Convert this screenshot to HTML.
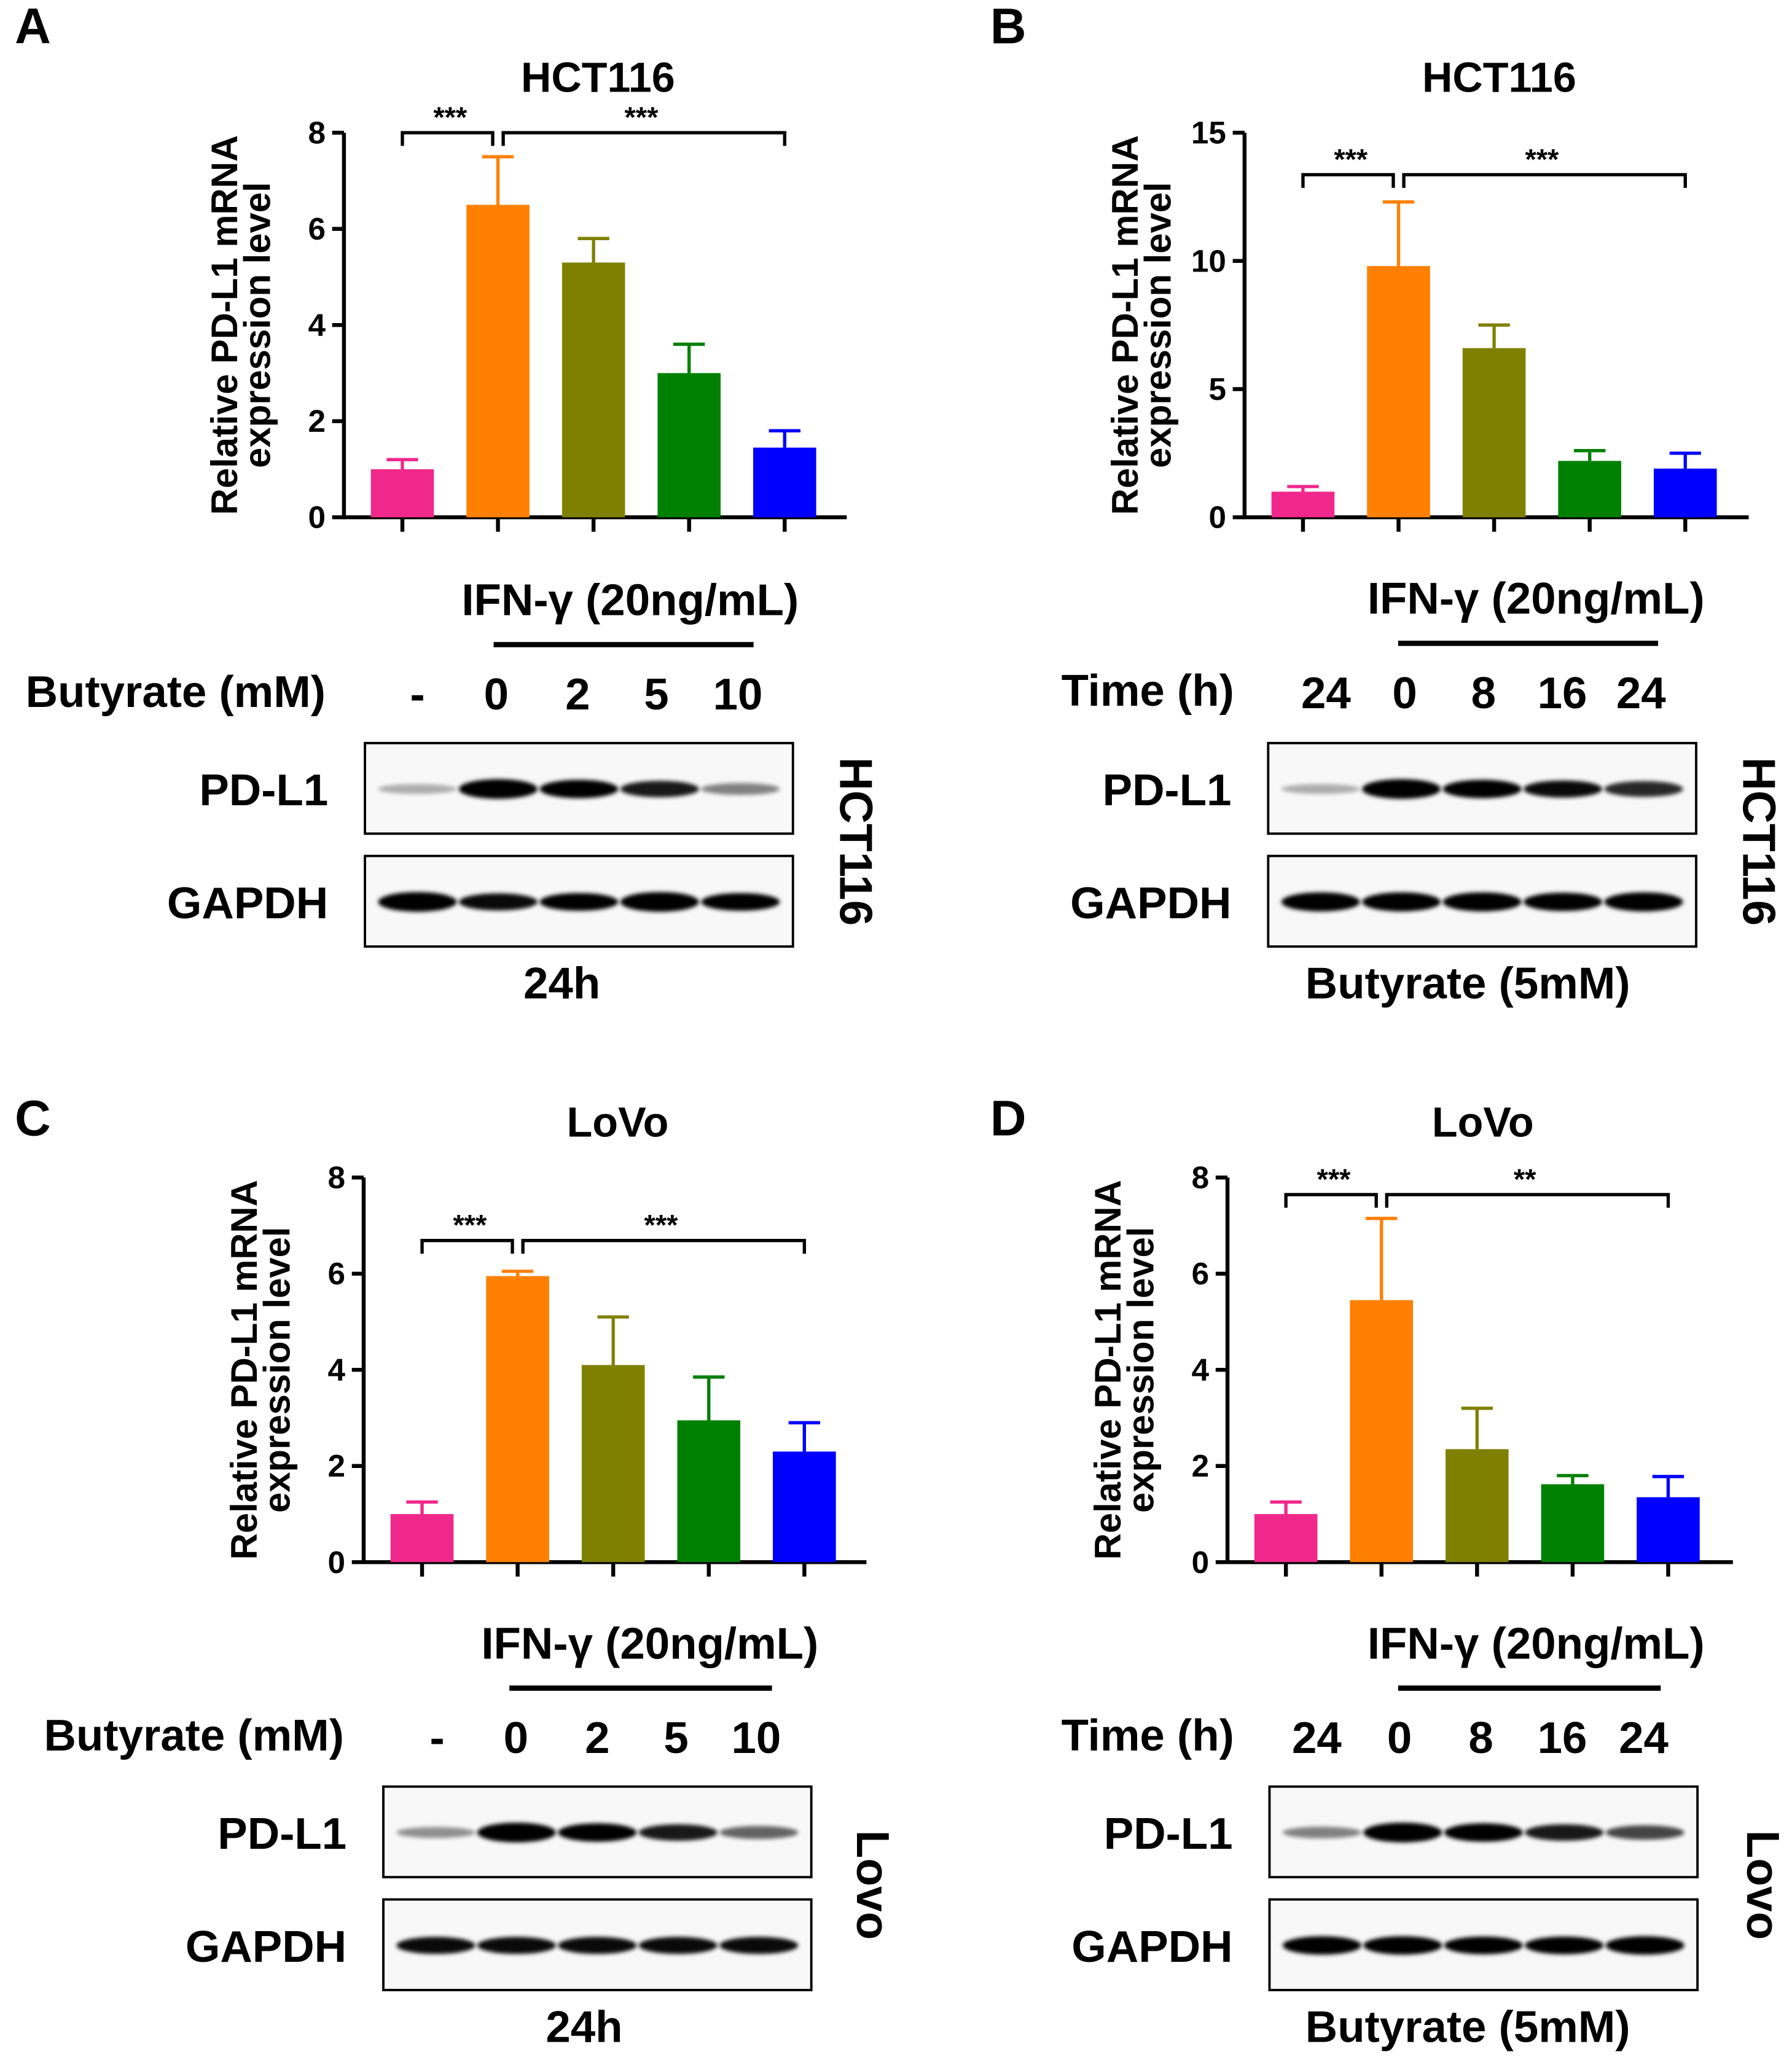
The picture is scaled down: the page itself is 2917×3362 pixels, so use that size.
<!DOCTYPE html>
<html><head><meta charset="utf-8">
<style>
html,body{margin:0;padding:0;background:#fff}
svg{display:block}
text{font-family:"Liberation Sans",Arial,sans-serif;font-weight:bold;fill:#000}
</style></head>
<body>
<svg id="fig" width="2917" height="3362" viewBox="0 0 1365 1573" xmlns="http://www.w3.org/2000/svg">
<defs><filter id="blur" x="-20%" y="-50%" width="140%" height="200%"><feGaussianBlur stdDeviation="1.6"/></filter></defs>
</svg>
<script>
const NS="http://www.w3.org/2000/svg";
const svg=document.getElementById('fig');
const colors=["#f0288c","#ff8000","#808000","#008000","#0000ff"];
// Chart data
const valuesA=[1.0,6.5,5.3,3.0,1.45];
const errA=[1.2,7.5,5.8,3.6,1.8];
const valuesB=[1.0,9.8,6.6,2.2,1.9];
const errB=[1.2,12.3,7.5,2.6,2.5];
const valuesC=[1.0,5.95,4.1,2.95,2.3];
const errC=[1.25,6.05,5.1,3.85,2.9];
const valuesD=[1.0,5.45,2.35,1.62,1.35];
const errD=[1.25,7.15,3.2,1.8,1.78];
const ticks8=[0,2,4,6,8];
const ticks15=[0,5,10,15];
const starsA=["***","***"],starsB=["***","***"],starsC=["***","***"],starsD=["***","**"];
const bandsA_pd=[0.25,1,0.9,0.75,0.4], bandsA_g=[1,0.8,0.85,1,0.85];
const bandsB_pd=[0.25,1,0.9,0.8,0.7], bandsB_g=[0.95,0.95,0.95,0.9,0.95];
const bandsC_pd=[0.35,1,0.9,0.75,0.5], bandsC_g=[0.8,0.8,0.8,0.8,0.8];
const bandsD_pd=[0.4,1,0.9,0.75,0.6], bandsD_g=[0.9,0.9,0.85,0.85,0.9];

function el(tag,attrs,parent){const e=document.createElementNS(NS,tag);for(const k in attrs)e.setAttribute(k,attrs[k]);(parent||svg).appendChild(e);return e;}
function txt(x,y,s,size,anchor,parent,rot){const t=el('text',{x:x,y:y,'font-size':size,'text-anchor':anchor||'middle','dominant-baseline':'central'},parent);if(rot)t.setAttribute('transform',`rotate(${rot} ${x} ${y})`);t.textContent=s;return t;}

function chart(o){
  const g=el('g',{});
  
  
  const y=v=>o.y0-(v/o.ymax)*(o.y0-o.ytop);
  const n=o.vals.length;
  const xc=i=>o.xa+44.5+72.8*i;
  el('line',{x1:o.xa,y1:o.ytop,x2:o.xa,y2:o.y0+1.5,stroke:'#000','stroke-width':3},g);
  el('line',{x1:o.xa-1.5,y1:o.y0,x2:o.x1,y2:o.y0,stroke:'#000','stroke-width':3},g);
  o.ticks.forEach(t=>{
    el('line',{x1:o.xa-9,y1:y(t),x2:o.xa,y2:y(t),stroke:'#000','stroke-width':3},g);
    const l=txt(o.xa-14,y(t),String(t),24,'end',g);
    
    
  });
  for(let i=0;i<n;i++){
    el('line',{x1:xc(i),y1:o.y0,x2:xc(i),y2:o.y0+11,stroke:'#000','stroke-width':3},g);
    const b=el('rect',{x:xc(i)-24,y:y(o.vals[i]),width:48,height:o.y0-y(o.vals[i]),fill:colors[i]},g);
    
    
    const ey=y(o.errs[i]);
    el('line',{x1:xc(i),y1:ey,x2:xc(i),y2:y(o.vals[i]),stroke:colors[i],'stroke-width':2.5},g);
    el('line',{x1:xc(i)-12,y1:ey,x2:xc(i)+12,y2:ey,stroke:colors[i],'stroke-width':2.5},g);
  }
  const by=o.by;
  el('path',{d:`M${xc(0)} ${by+10}V${by}H${xc(1)-4}V${by+10}`,fill:'none',stroke:'#000','stroke-width':2.5},g);
  el('path',{d:`M${xc(1)+4} ${by+10}V${by}H${xc(4)}V${by+10}`,fill:'none',stroke:'#000','stroke-width':2.5},g);
  txt((xc(0)+xc(1))/2,by-12,o.stars[0],22,'middle',g);
  txt((xc(1)+xc(4))/2,by-12,o.stars[1],22,'middle',g);
  const ttl=txt((o.xa+o.x1)/2+2,o.ytop-42,o.title,32,'middle',g);
  
  
  const ym=(o.y0+o.ytop)/2;
  const a1=txt(o.xa-91,ym,'Relative PD-L1 mRNA',28,'middle',g,-90);
  
  
  txt(o.xa-66,ym,'expression level',28,'middle',g,-90);
}
chart({name:'a',xa:262,x1:645,y0:394,ytop:101,ymax:8,ticks:ticks8,vals:valuesA,errs:errA,by:101,stars:starsA,title:'HCT116'});
chart({name:'b',xa:948,x1:1332,y0:394,ytop:101,ymax:15,ticks:ticks15,vals:valuesB,errs:errB,by:133,stars:starsB,title:'HCT116'});
chart({name:'c',xa:277,x1:660,y0:1190,ytop:897,ymax:8,ticks:ticks8,vals:valuesC,errs:errC,by:945,stars:starsC,title:'LoVo'});
chart({name:'d',xa:935,x1:1320,y0:1190,ytop:897,ymax:8,ticks:ticks8,vals:valuesD,errs:errD,by:910,stars:starsD,title:'LoVo'});

function blot(o){
  const g=el('g',{});
  
  
  [[o.y1,o.pd,'PD-L1'],[o.y2,o.gp,'GAPDH']].forEach(([yy,bands,lab])=>{
    el('rect',{x:o.x,y:yy,width:326,height:69,fill:'#f8f8f8',stroke:'#000','stroke-width':1.8},g);
    for(let i=0;i<5;i++){
      const cx=o.x+40+i*61.5, a=bands[i];
      el('ellipse',{cx:cx,cy:yy+35,rx:30,ry:2.5+a*5,fill:'#000',opacity:Math.min(1,a*1.2),filter:'url(#blur)'},g);
    }
    const l=txt(o.x-28,yy+36,lab,34,'end',g);
    
    
  });
  txt(o.ifx,o.ify,'IFN-γ (20ng/mL)',34,'middle',g);
  el('line',{x1:o.lx1,y1:o.ify+34,x2:o.lx2,y2:o.ify+34,stroke:'#000','stroke-width':4},g);
  txt(o.rowx,o.ify+70,o.rowLabel,34,'end',g);
  o.lanes.forEach((s,i)=>txt(o.lanex[i],o.ify+72,s,34,'middle',g));
  txt(o.botx,o.y2+97,o.bottom,34,'middle',g);
  txt(o.sidex,o.y1+75,o.side,35,'middle',g,90);
}
blot({name:'a',x:278,y1:566,y2:652,pd:bandsA_pd,gp:bandsA_g,ifx:480,ify:457,lx1:376,lx2:574,rowx:248,rowLabel:'Butyrate (mM)',lanes:['-','0','2','5','10'],lanex:[318,378,440,500,562],bottom:'24h',botx:428,side:'HCT116',sidex:652});
blot({name:'b',x:966,y1:566,y2:652,pd:bandsB_pd,gp:bandsB_g,ifx:1170,ify:456,lx1:1065,lx2:1263,rowx:940,rowLabel:'Time (h)',lanes:['24','0','8','16','24'],lanex:[1010,1070,1130,1190,1250],bottom:'Butyrate (5mM)',botx:1118,side:'HCT116',sidex:1340});
blot({name:'c',x:292,y1:1361,y2:1447,pd:bandsC_pd,gp:bandsC_g,ifx:495,ify:1252,lx1:388,lx2:588,rowx:262,rowLabel:'Butyrate (mM)',lanes:['-','0','2','5','10'],lanex:[333,393,455,515,576],bottom:'24h',botx:445,side:'Lovo',sidex:665});
blot({name:'d',x:967,y1:1361,y2:1447,pd:bandsD_pd,gp:bandsD_g,ifx:1170,ify:1252,lx1:1065,lx2:1265,rowx:940,rowLabel:'Time (h)',lanes:['24','0','8','16','24'],lanex:[1003,1066,1128,1190,1252],bottom:'Butyrate (5mM)',botx:1118,side:'Lovo',sidex:1343});

[['A',25,20],['B',768,20],['C',25,852],['D',768,852]].forEach(([s,x,y])=>{
  const t=txt(x,y,s,38,'middle');
  
  
});
</script>
</body></html>
